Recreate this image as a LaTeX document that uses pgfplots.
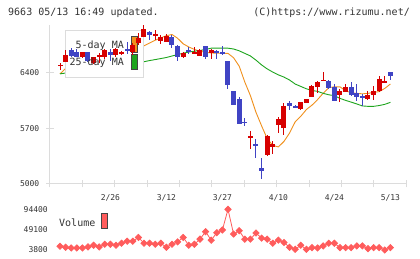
\documentclass[border=0pt]{standalone}
\usepackage{pgfplots}
\pgfplotsset{compat=1.18}
\usepackage{pgfplotstable}
\usepackage{fontspec}
\setmainfont{DejaVu Sans Mono}
\definecolor{gridgray}{RGB}{220,220,220}
\definecolor{textgray}{RGB}{51,51,51}
\definecolor{cred}{RGB}{215,0,0}
\definecolor{cblue}{RGB}{64,68,196}
\definecolor{maorange}{RGB}{240,145,30}
\definecolor{magreen}{RGB}{30,165,30}
\definecolor{volred}{RGB}{255,92,92}
\definecolor{swborder}{RGB}{68,68,68}

\pgfplotstableread{
i o h l c
0 6485 6525 6433 6495
1 6538 6684 6538 6621
4 6592 6654 6588 6654
6 6525 6600 6510 6592
7 6600 6640 6520 6625
8 6590 6692 6570 6684
10 6615 6705 6600 6692
11 6638 6670 6625 6648
13 6655 6770 6621 6746
14 6767 6892 6746 6834
15 6850 6996 6850 6946
17 6862 6933 6808 6878
18 6800 6871 6758 6842
19 6788 6883 6788 6855
22 6592 6660 6588 6642
24 6633 6717 6633 6663
25 6613 6700 6613 6683
27 6642 6700 6571 6683
34 5585 5671 5442 5600
37 5358 5612 5350 5608
38 5470 5537 5371 5500
39 5746 5837 5642 5817
40 5704 6017 5612 5975
43 5942 6029 5925 6029
44 6017 6071 6017 6071
45 6087 6246 6087 6233
46 6213 6296 6142 6279
47 6296 6404 6296 6308
50 6113 6196 6025 6163
51 6150 6258 6150 6213
55 6071 6171 6058 6121
56 6113 6225 6050 6171
57 6163 6358 6158 6321
58 6263 6358 6263 6296
}\upcandles

\pgfplotstableread{
i o h l c
2 6684 6705 6592 6613
3 6663 6692 6590 6600
5 6654 6654 6530 6550
9 6663 6692 6540 6615
12 6688 6788 6630 6680
16 6904 6925 6808 6871
20 6850 6871 6705 6742
21 6733 6740 6538 6592
23 6680 6717 6633 6672
26 6733 6733 6567 6600
28 6671 6680 6571 6642
29 6655 6733 6621 6646
30 6546 6550 6192 6238
31 6171 6171 5988 5988
32 6071 6092 5750 5754
33 5780 5829 5733 5770
35 5500 5567 5330 5475
36 5196 5330 5067 5163
41 6017 6046 5933 5975
42 5975 5996 5954 5958
48 6296 6308 6192 6204
49 6213 6254 6037 6037
52 6213 6275 6108 6121
53 6142 6258 6037 6088
54 6100 6129 5975 6083
59 6400 6400 6300 6350
}\downcandles

\pgfplotstableread{
i ma5 ma25
0 6383 6383
1 6450 6393
2 6530 6403
3 6580 6413
4 6600 6423
5 6610 6433
6 6600 6443
7 6595 6453
8 6610 6463
9 6625 6473
10 6640 6483
11 6650 6493
12 6665 6503
13 6690 6513
14 6710 6524
15 6735 6535
16 6770 6550
17 6805 6562
18 6835 6575
19 6862 6588
20 6877 6607
21 6830 6625
22 6760 6642
23 6720 6657
24 6690 6667
25 6665 6676
26 6655 6690
27 6645 6705
28 6642 6705
29 6642 6705
30 6640 6705
31 6585 6695
32 6480 6672
33 6280 6640
34 6110 6608
35 5900 6555
36 5730 6495
37 5570 6445
38 5485 6405
39 5465 6370
40 5535 6342
41 5640 6305
42 5780 6255
43 5850 6225
44 5935 6195
45 5990 6175
46 6060 6163
47 6140 6138
48 6210 6120
49 6220 6109
50 6220 6075
51 6170 6050
52 6145 6028
53 6138 6005
54 6132 5980
55 6138 5975
56 6150 5975
57 6160 5985
58 6200 6000
59 6255 6025
}\matable

\pgfplotstableread{
i v
0 10700
1 8400
2 6900
3 6900
4 6900
5 9200
6 13000
7 9200
8 15300
9 15300
10 13000
11 17600
12 22200
13 22200
14 30700
15 17600
16 17600
17 15300
18 17600
19 8400
20 15300
21 20700
22 30700
23 13000
24 15300
25 26800
26 43700
27 24500
28 41400
29 47600
30 94400
31 38400
32 46000
33 26800
34 26800
35 40700
36 29100
37 26800
38 17600
39 24500
40 19200
41 8400
42 3800
43 13000
44 3800
45 7600
46 6900
47 11500
48 17600
49 17600
50 7600
51 7600
52 7600
53 11500
54 11500
55 5300
56 7600
57 7600
58 2300
59 7600
}\voltable

\begin{document}
\begin{tikzpicture}[x=1pt,y=1pt]
\path[use as bounding box] (0,0) rectangle (420,259);
\node[anchor=west,inner sep=0pt,text=textgray,font=\fontsize{10}{10}\selectfont] at (8,246.7) {9663 05/13 16:49 updated.};
\node[anchor=east,inner sep=0pt,text=textgray,font=\fontsize{10}{10}\selectfont] at (410,246.7) {(C)https://www.rizumu.net/};

\begin{axis}[
  at={(50pt,75pt)}, anchor=south west, scale only axis,
  width=356.4pt, height=159.3pt,
  xmin=-1.786, xmax=61.86, ymin=5000, ymax=7000,
  axis x line=bottom, axis y line=left,
  axis line style={-, draw=gridgray, line width=1pt},
  ytick={5000,5700,6400}, yticklabels={5000,5700,6400},
  xtick={-1.786,4.0,9.786,15.571,21.357,27.143,32.929,38.714,44.5,50.286,56.071,61.857},
  xticklabels={},
  extra x ticks={9,19,29,39,49,59},
  extra x tick labels={2/26,3/12,3/27,4/10,4/24,5/13},
  extra x tick style={major tick length=0pt, tick style={draw=none},
     xticklabel style={anchor=center, yshift=-14.3pt}},
  tick align=center, major tick length=7pt,
  tick style={draw=gridgray, line width=1pt},
  tick label style={font=\fontsize{8}{8}\selectfont, text=textgray},
  yticklabel style={anchor=east, inner sep=0pt, xshift=-7pt},
  /pgf/number format/assume math mode=true,
]
\addplot[maorange, line width=0.9pt, mark=none] table[x=i, y=ma5] {\matable};
\addplot[magreen, line width=0.9pt, mark=none] table[x=i, y=ma25] {\matable};
% legend box (drawn over MA lines, under candles)
\fill[white] (axis cs:0.946,6340) rectangle (axis cs:14.875,6933);
\draw[gridgray, line width=1pt] (axis cs:0.946,6340) rectangle (axis cs:14.875,6933);
\filldraw[fill=maorange, draw=swborder, line width=0.8pt] (axis cs:12.68,6653) rectangle (axis cs:13.80,6849);
\filldraw[fill=magreen, draw=swborder, line width=0.8pt] (axis cs:12.68,6440) rectangle (axis cs:13.80,6632);
% wicks
\addplot[draw=none, mark=none, error bars/.cd, y dir=both, y explicit, error mark=none,
  error bar style={line width=1pt, draw=cred}]
  table[x=i, y expr={(\thisrow{h}+\thisrow{l})/2}, y error expr={(\thisrow{h}-\thisrow{l})/2}] {\upcandles};
\addplot[draw=none, mark=none, error bars/.cd, y dir=both, y explicit, error mark=none,
  error bar style={line width=1pt, draw=cblue}]
  table[x=i, y expr={(\thisrow{h}+\thisrow{l})/2}, y error expr={(\thisrow{h}-\thisrow{l})/2}] {\downcandles};
% bodies
\addplot[draw=none, mark=none, error bars/.cd, y dir=both, y explicit, error mark=none,
  error bar style={line width=5pt, draw=cred}]
  table[x=i, y expr={(\thisrow{o}+\thisrow{c})/2}, y error expr={max(abs(\thisrow{o}-\thisrow{c})/2,9)}] {\upcandles};
\addplot[draw=none, mark=none, error bars/.cd, y dir=both, y explicit, error mark=none,
  error bar style={line width=5pt, draw=cblue}]
  table[x=i, y expr={(\thisrow{o}+\thisrow{c})/2}, y error expr={max(abs(\thisrow{o}-\thisrow{c})/2,9)}] {\downcandles};
\node[anchor=east, inner sep=0pt, text=textgray, font=\fontsize{10}{10}\selectfont] at (axis cs:11.43,6736) {5-day MA};
\node[anchor=east, inner sep=0pt, text=textgray, font=\fontsize{10}{10}\selectfont] at (axis cs:11.43,6519) {25-day MA};
\end{axis}

\begin{axis}[
  at={(50pt,7pt)}, anchor=south west, scale only axis,
  width=356.4pt, height=46.9pt,
  xmin=-1.786, xmax=61.86, ymin=-2300, ymax=104000,
  axis line style={draw=none}, tick style={draw=none},
  xtick=\empty, scaled y ticks=false,
  ytick={3800,49100,94400}, yticklabels={3800,49100,94400},
  tick label style={font=\fontsize{8}{8}\selectfont, text=textgray},
  yticklabel style={anchor=east, inner sep=0pt, xshift=-2pt},
  /pgf/number format/assume math mode=true,
  clip=false,
]
\addplot[volred, line width=0.8pt, mark=square*, mark size=2.2pt,
  mark options={rotate=45, fill=volred, draw=volred}] table[x=i, y=v] {\voltable};
\end{axis}

\node[anchor=west, inner sep=0pt, text=textgray, font=\fontsize{10}{10}\selectfont] at (59,36.7) {Volume};
\filldraw[fill=volred, draw=swborder, line width=0.8pt] (101.7,30.7) rectangle (107.3,45.7);
\end{tikzpicture}
\end{document}
